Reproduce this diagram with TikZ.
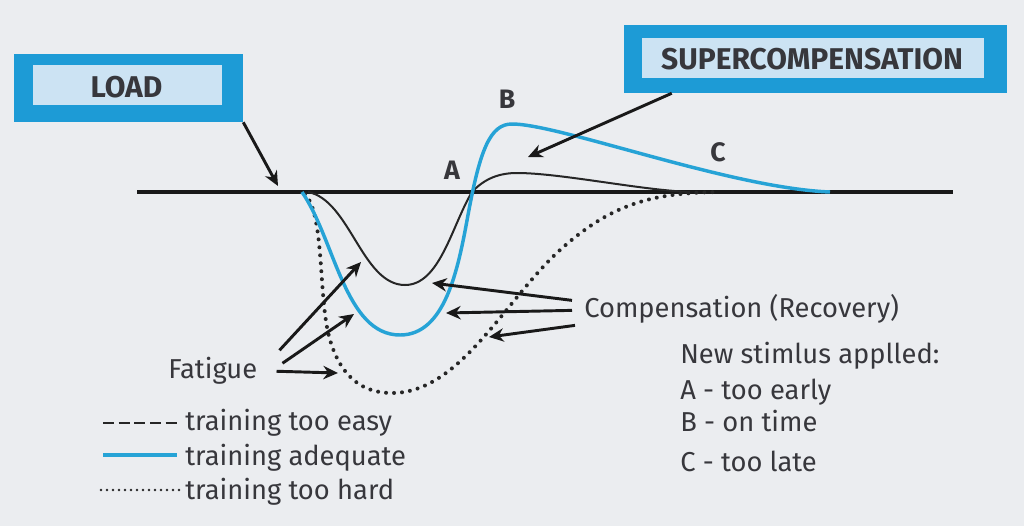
\documentclass[tikz,border=0pt]{standalone}
\usepackage{fontspec}
\setmainfont{Fira Sans}
\usetikzlibrary{arrows.meta}
\definecolor{bg}{RGB}{235,237,240}
\definecolor{bblue}{RGB}{29,155,214}
\definecolor{lblue}{RGB}{204,227,243}
\definecolor{txt}{RGB}{55,55,60}
\definecolor{cblue}{RGB}{38,163,214}
\begin{document}
\begin{tikzpicture}[x=0.75pt,y=-0.75pt,
  outerbox/.style={fill=bblue,inner sep=0pt},
  innerbox/.style={fill=lblue,inner sep=0pt},
  boxtext/.style={font=\fontsize{22.5}{26}\selectfont\bfseries,text=txt,inner sep=0pt},
  bodytext/.style={font=\fontsize{20.5}{24}\selectfont,text=txt,inner sep=0pt,anchor=base west},
  lettertext/.style={font=\fontsize{20}{24}\selectfont\bfseries,text=txt,inner sep=0pt},
  arr/.style={-{Stealth[length=11pt,width=10pt]},line width=2.2pt,draw=black!90},
  axisline/.style={line width=2.3pt,draw=black!90},
  easy/.style={line width=1.5pt,draw=black!85},
  adequate/.style={line width=2.6pt,draw=cblue},
  hard/.style={line width=3pt,draw=black!85,line cap=round,dash pattern=on 0pt off 6pt},
]
\fill[bg] (0,0) rectangle (1024,526);
\useasboundingbox (0,0) rectangle (1024,526);

% axis
\coordinate (axL) at (137,192);
\coordinate (axR) at (953,192);
\draw[axisline] (axL) -- (axR);

% curves
\draw[hard] (305,194) .. controls (325,215) and (318,300) .. (330,340)
  .. controls (342,380) and (365,393) .. (392,393)
  .. controls (460,393) and (505,300) .. (560,250)
  .. controls (610,205) and (650,193) .. (717,192);
\draw[easy] (308,192) .. controls (350,200) and (362,285) .. (405,285)
  .. controls (440,285) and (452,225) .. (472,192)
  .. controls (485,178) and (500,173) .. (517,173)
  .. controls (560,173) and (640,190) .. (690,192);
\draw[adequate] (302,192) .. controls (335,240) and (345,335) .. (400,335)
  .. controls (445,335) and (458,270) .. (468,215)
  .. controls (480,150) and (490,124) .. (512,124)
  .. controls (560,124) and (730,188) .. (830,192);

% boxes
\node[outerbox,minimum width=171.75pt,minimum height=51pt] (loadout) at (128.5,88) {};
\node[innerbox,minimum width=141.75pt,minimum height=30pt] (loadin) at (127.5,85) {};
\node[boxtext] (loadtxt) at (126.5,87) {LOAD};

\node[outerbox,minimum width=287.25pt,minimum height=51pt] (superout) at (815.5,59) {};
\node[innerbox,minimum width=256.5pt,minimum height=30pt] (superin) at (813,58) {};
\node[boxtext] (supertxt) at (812,59.5) {SUPERCOMPENSATION};

% letters
\node[lettertext] (A) at (452,170) {A};
\node[lettertext] (B) at (507,99) {B};
\node[lettertext] (C) at (718,152) {C};

% arrows from boxes
\coordinate (loadtip) at (278,186);
\draw[arr] (loadout.south east) -- (loadtip);
\coordinate (supertip) at (528,157);
\draw[arr] ([shift={(48,0)}]superout.south west) -- (supertip);

% fatigue
\node[bodytext] (fat) at (168,378) {Fatigue};
\coordinate (f1) at (361,262);
\coordinate (f2) at (354,314);
\coordinate (f3) at (338,373);
\draw[arr] ([shift={(22,-20)}]fat.east) -- (f1);
\draw[arr] ([shift={(25,-7)}]fat.east) -- (f2);
\draw[arr] ([shift={(19,1)}]fat.east) -- (f3);

% compensation
\node[bodytext] (comp) at (584,317) {Compensation (Recovery)};
\coordinate (c1) at (432,283);
\coordinate (c2) at (446,313);
\coordinate (c3) at (489,337);
\draw[arr] ([shift={(-12,-8)}]comp.west) -- (c1);
\draw[arr] ([shift={(-12,2)}]comp.west) -- (c2);
\draw[arr] ([shift={(-9,17)}]comp.west) -- (c3);

% stimulus text
\node[bodytext] (ns) at (680,363) {New stimlus applled:};
\node[bodytext] (na) at (680,399) {A - too early};
\node[bodytext] (nb) at (680,431) {B - on time};
\node[bodytext] (nc) at (680,471) {C - too late};

% legend
\node[bodytext] (l1) at (185,430) {training too easy};
\node[bodytext] (l2) at (185,465) {training adequate};
\node[bodytext] (l3) at (185,499) {training too hard};
\coordinate (l1a) at (103,423);
\coordinate (l2a) at (103,455);
\coordinate (l3a) at (101,490);
\draw[line width=1.8pt,draw=black!85,dash pattern=on 8.25pt off 3.5pt] (l1a) -- ([xshift=-6pt]l1.west |- l1a);
\draw[adequate] (l2a) -- ([xshift=-6pt]l2.west |- l2a);
\draw[line width=2pt,draw=black!85,line cap=round,dash pattern=on 0pt off 4.5pt] (l3a) -- ([xshift=-3pt]l3.west |- l3a);
\end{tikzpicture}
\end{document}
